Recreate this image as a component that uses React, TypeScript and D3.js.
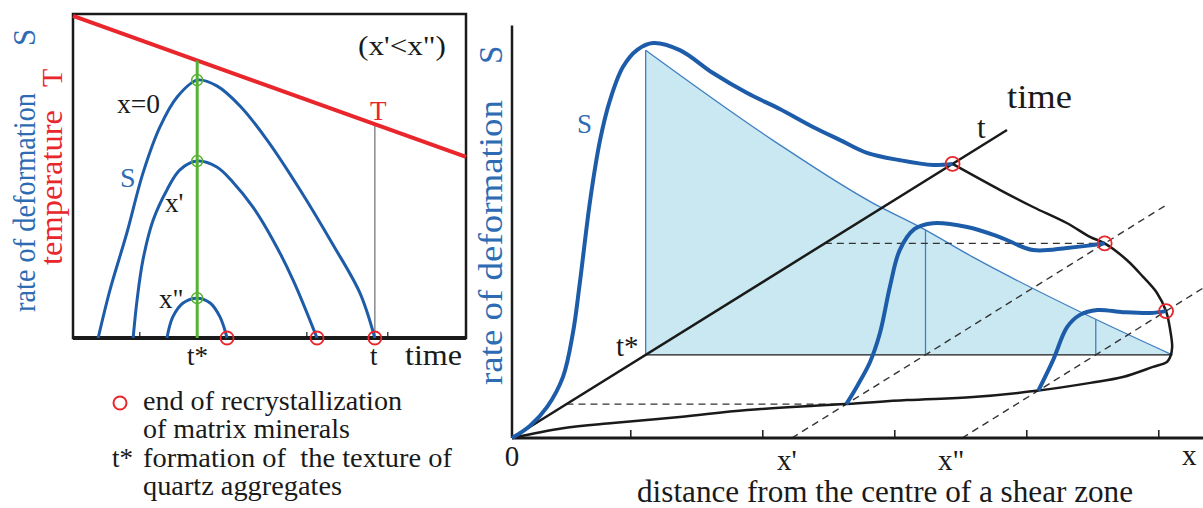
import React from 'react';
import * as d3 from 'd3';

// ---------- left panel: rate of deformation S and temperature T vs time ----------
// (t, s) pairs, both axes in arbitrary 0..100 units
const tStarLeft = 31.6;
const curveX0Left: [number, number][] = [
  [6.4, 0], [9.4, 14.8], [13.7, 32.4], [17.8, 50.9], [22.1, 65.1], [26.5, 74.4],
  [31.6, 79.6], [36.6, 77.8], [42.5, 71.6], [49.4, 61.1], [57.8, 45.7], [66.2, 28.7],
  [73.0, 13.9], [76.8, 0],
];
const curveX1Left: [number, number][] = [
  [15.3, 0], [16.3, 11.7], [17.8, 24.1], [20.4, 36.4], [23.9, 45.7], [27.2, 51.9],
  [31.6, 54.6], [36.6, 52.8], [40.7, 48.1], [45.8, 40.4], [50.9, 30.2], [56.0, 17.9],
  [62.1, 0],
];
const curveX2Left: [number, number][] = [
  [23.9, 0], [25.4, 6.5], [28.0, 10.8], [31.6, 12.3], [34.9, 10.8], [37.4, 6.5], [39.2, 0],
];
const temperatureLeft: [number, number][] = [[0, 99.4], [100, 55.9]];
const tEndLeft = 76.8;
const ticksLeft = [17, 59.5, 80.1];

// ---------- right panel: oblique view of distance x, time t, rate s ----------
const tStarRight = 27;
const xPrime = 42.4;
const xDouble = 68.2;
const ticksRight = [18, 38, 58, 78, 98];
// section curves, (t, s)
const sectionX0: [number, number][] = [
  [0, 0], [3.6, 0.3], [7.1, 2.8], [10.3, 8.9], [12.3, 20.3], [13.7, 34.2], [15.8, 57.4],
  [17.8, 73.7], [19.8, 83.9], [22.4, 91.5], [25.3, 94.0], [28.5, 93.1], [33.9, 85.9],
  [40.6, 72.7], [47.5, 60.2], [54.1, 49.2], [60.8, 37.5], [66.3, 28.4], [71.7, 19.5],
  [78.4, 11.0], [85.1, 3.3], [89, 0],
];
const sectionX1: [number, number][] = [
  [11, 0], [13.3, 3.6], [15.8, 8.3], [17.8, 15.2], [19.8, 27.3], [21.8, 36.6], [24.8, 40.2],
  [28.5, 38.5], [35.4, 30.9], [42.0, 21.7], [48.7, 11.5], [55.6, 5.7], [60.8, 1.7], [63.2, 0],
];
const sectionX2: [number, number][] = [
  [15.4, 0], [18.4, 6.5], [21.2, 13.8], [23.8, 15.1], [27.3, 13.3], [32.5, 7.8],
  [38.0, 2.4], [41.2, 0],
];
// boundary of the deforming domain in the (x, t) plane
const envelope: [number, number][] = [
  [0, 89], [13.6, 80.5], [22.7, 75.0], [31.7, 69.8], [38.6, 65.3], [42.4, 63.2],
  [49.8, 57.8], [56.4, 52.3], [62.4, 47.1], [68.2, 41.2], [73.4, 35.1], [77.9, 29.5],
  [80.0, 26.3], [80.7, 24.7], [79.8, 23.1], [77.7, 19.8], [74.2, 17.9], [68.2, 15.4],
  [59.9, 13.3], [50.6, 12.3], [42.4, 11.0], [28.8, 9.1], [20.3, 6.8], [11.6, 4.9],
  [5.3, 3.2], [0, 0],
];
// s profile across x at t = t*
const tStarProfile: [number, number][] = [
  [0, 92.3], [19.3, 65.0], [34.5, 45.9], [41.6, 38.7], [49.6, 29.6], [66.6, 12.3], [79.8, 0],
];

const BLUE = '#1d5ca9';
const BLUE_TXT = '#2d6cb3';
const THIN_BLUE = '#3f7fc2';
const RED = '#e8262b';
const GREEN = '#56b233';
const FILL = '#c9e8f1';
const INK = '#1a1a1a';
const FONT = 'Liberation Serif, Times New Roman, serif';

export default function App() {
  // left scales
  const xL = d3.scaleLinear().domain([0, 100]).range([73, 466]);
  const yL = d3.scaleLinear().domain([0, 100]).range([338, 14]);
  const lineL = d3.line<[number, number]>().x((d) => xL(d[0])).y((d) => yL(d[1])).curve(d3.curveCatmullRom);

  const tempAt = d3.scaleLinear().domain(temperatureLeft.map((d) => d[0])).range(temperatureLeft.map((d) => d[1]));

  // right projection
  const dS = d3.scaleLinear().domain([0, 100]).range([0, 660]);
  const tX = d3.scaleLinear().domain([0, 100]).range([0, 495]);
  const tY = d3.scaleLinear().domain([0, 100]).range([0, 308]);
  const sS = d3.scaleLinear().domain([0, 100]).range([0, 330]);
  const ox = 512;
  const oy = 438;
  const proj = (d: number, t: number, s: number): [number, number] => [
    ox + dS(d) + tX(t),
    oy - tY(t) - sS(s),
  ];
  const path = d3.line().curve(d3.curveCatmullRom);
  const smooth = d3.line().curve(d3.curveMonotoneX);
  const straight = d3.line();
  const section = (x: number, pts: [number, number][]) => path(pts.map(([t, s]) => proj(x, t, s))) as string;
  const profileAt = d3
    .scaleLinear()
    .domain(tStarProfile.map((d) => d[0]))
    .range(tStarProfile.map((d) => d[1]));

  const hyp = tStarProfile.map(([d, s]) => proj(d, tStarRight, s));
  const t0 = proj(0, tStarRight, 0);
  const hypPath = smooth(hyp) as string;
  const trianglePath = `M${t0[0]},${t0[1]}L${hyp[0][0]},${hyp[0][1]}` + hypPath.replace(/^M[^CLZ]*/, '') + 'Z';

  const circlesR = [
    proj(0, sectionX0[sectionX0.length - 1][0], 0),
    proj(xPrime, sectionX1[sectionX1.length - 1][0], 0),
    proj(xDouble, sectionX2[sectionX2.length - 1][0], 0),
  ];

  const txt = { whiteSpace: 'pre' as const };

  return (
    <svg
      width={1203}
      height={508}
      fontFamily={FONT}
      style={{ position: 'absolute', left: 0, top: 0, background: '#fff' }}
    >
      {/* ================= LEFT PANEL ================= */}
      <rect x={73} y={14} width={393} height={324} fill="none" stroke={INK} strokeWidth={2.5} />
      <line x1={xL(0)} x2={xL(100)} y1={yL(0)} y2={yL(0)} stroke={INK} strokeWidth={4} />
      {ticksLeft.map((t) => (
        <line key={t} x1={xL(t)} x2={xL(t)} y1={yL(0)} y2={yL(0) - 6} stroke={INK} strokeWidth={1.2} />
      ))}

      {/* grey line at t */}
      <line x1={xL(tEndLeft)} x2={xL(tEndLeft)} y1={yL(0)} y2={yL(tempAt(tEndLeft))} stroke="#8a8a8a" strokeWidth={1.5} />

      {/* temperature */}
      <path d={lineL(temperatureLeft) as string} stroke={RED} strokeWidth={4} fill="none" />

      {/* rate curves */}
      {[curveX0Left, curveX1Left, curveX2Left].map((c, i) => (
        <path key={i} d={lineL(c) as string} stroke={BLUE} strokeWidth={3} fill="none" />
      ))}

      {/* t* line */}
      <line x1={xL(tStarLeft)} x2={xL(tStarLeft)} y1={yL(0)} y2={yL(tempAt(tStarLeft))} stroke={GREEN} strokeWidth={3} />
      {[curveX0Left, curveX1Left, curveX2Left].map((c, i) => {
        const peak = c.reduce((a, b) => (b[1] > a[1] ? b : a));
        return <circle key={i} cx={xL(tStarLeft)} cy={yL(peak[1])} r={5.5} fill="none" stroke={GREEN} strokeWidth={1.5} />;
      })}
      {[curveX0Left, curveX1Left, curveX2Left].map((c, i) => (
        <circle key={i} cx={xL(c[c.length - 1][0])} cy={yL(0)} r={6.5} fill="none" stroke={RED} strokeWidth={1.8} />
      ))}

      {/* left labels */}
      <text transform="translate(35,312) rotate(-90)" fontSize={32} fill={BLUE_TXT} textLength={219} lengthAdjust="spacingAndGlyphs" style={txt}>rate of deformation</text>
      <text transform="translate(35,46) rotate(-90)" fontSize={31} fill={BLUE_TXT} style={txt}>S</text>
      <text transform="translate(62,265) rotate(-90)" fontSize={32} fill={RED} textLength={155} lengthAdjust="spacingAndGlyphs" style={txt}>temperature</text>
      <text transform="translate(62,87) rotate(-90)" fontSize={30} fill={RED} style={txt}>T</text>

      <text x={117} y={113} fontSize={27} fill={INK} textLength={43} lengthAdjust="spacingAndGlyphs" style={txt}>x=0</text>
      <text x={165} y={212} fontSize={27} fill={INK} style={txt}>x'</text>
      <text x={159} y={308} fontSize={27} fill={INK} style={txt}>x"</text>
      <text x={120} y={187} fontSize={28} fill={BLUE_TXT} style={txt}>S</text>
      <text x={358} y={55} fontSize={27} fill={INK} textLength={88} lengthAdjust="spacingAndGlyphs" style={txt}>(x'&lt;x")</text>
      <text x={370} y={120} fontSize={27} fill={RED} style={txt}>T</text>
      <text x={187} y={365} fontSize={27} fill={INK} style={txt}>t*</text>
      <text x={370} y={365} fontSize={27} fill={INK} style={txt}>t</text>
      <text x={405} y={365} fontSize={30} fill={INK} textLength={57} lengthAdjust="spacingAndGlyphs" style={txt}>time</text>

      {/* legend */}
      <circle cx={120} cy={403} r={6.5} fill="none" stroke={RED} strokeWidth={2} />
      <text x={143} y={410} fontSize={27} fill={INK} textLength={259} lengthAdjust="spacingAndGlyphs" style={txt}>end of recrystallization</text>
      <text x={143} y={438} fontSize={27} fill={INK} textLength={207} lengthAdjust="spacingAndGlyphs" style={txt}>of matrix minerals</text>
      <text x={112} y={467} fontSize={27} fill={INK} style={txt}>t*</text>
      <text x={143} y={467} fontSize={27} fill={INK} textLength={309} lengthAdjust="spacingAndGlyphs" style={txt}>formation of  the texture of</text>
      <text x={143} y={495} fontSize={27} fill={INK} textLength={199} lengthAdjust="spacingAndGlyphs" style={txt}>quartz aggregates</text>

      {/* ================= RIGHT PANEL ================= */}
      {/* t* plane triangle */}
      <path d={trianglePath} fill={FILL} stroke="none" />
      <path d={hypPath} fill="none" stroke={THIN_BLUE} strokeWidth={1.3} />
      <path d={straight([t0, hyp[0]]) as string} stroke={THIN_BLUE} strokeWidth={1.3} />
      {[xPrime, xDouble].map((x) => (
        <path key={x} d={straight([proj(x, tStarRight, 0), proj(x, tStarRight, profileAt(x))]) as string} stroke={THIN_BLUE} strokeWidth={1.3} />
      ))}
      <path d={straight([t0, proj(tStarProfile[tStarProfile.length - 1][0], tStarRight, 0)]) as string} stroke={INK} strokeWidth={1.3} />

      {/* dashed guides */}
      <g stroke="#333" strokeWidth={1.4} strokeDasharray="7,5" fill="none">
        <path d={straight([proj(xPrime, 0, 0), proj(xPrime, 75.5, 0)]) as string} />
        <path d={straight([proj(xDouble, 0, 0), proj(xDouble, 56, 0)]) as string} />
        <path d={straight([proj(0, sectionX1[0][0], 0), proj(xPrime, sectionX1[0][0], 0)]) as string} />
        <path d={straight([proj(0, sectionX1[sectionX1.length - 1][0], 0), proj(xPrime, sectionX1[sectionX1.length - 1][0], 0)]) as string} />
      </g>

      {/* axes */}
      <line x1={ox} x2={ox} y1={oy} y2={oy - sS(125)} stroke={INK} strokeWidth={2.5} />
      <line x1={ox} x2={ox + dS(105)} y1={oy} y2={oy} stroke={INK} strokeWidth={3} />
      {ticksRight.map((d) => (
        <line key={d} x1={ox + dS(d)} x2={ox + dS(d)} y1={oy} y2={oy - 8} stroke={INK} strokeWidth={1.5} />
      ))}
      <path d={straight([proj(0, 0, 0), proj(0, 100, 0)]) as string} stroke={INK} strokeWidth={2.5} />

      {/* envelope */}
      <path d={path(envelope.map(([d, t]) => proj(d, t, 0))) as string} fill="none" stroke={INK} strokeWidth={2.5} />

      {/* sections */}
      <path d={section(0, sectionX0)} fill="none" stroke={BLUE} strokeWidth={4} />
      <path d={section(xPrime, sectionX1)} fill="none" stroke={BLUE} strokeWidth={4} />
      <path d={section(xDouble, sectionX2)} fill="none" stroke={BLUE} strokeWidth={4} />

      {circlesR.map(([cx, cy], i) => (
        <circle key={i} cx={cx} cy={cy} r={7} fill="none" stroke={RED} strokeWidth={1.8} />
      ))}

      {/* right labels */}
      <text transform="translate(502,385) rotate(-90)" fontSize={33} fill={BLUE_TXT} textLength={285} lengthAdjust="spacingAndGlyphs" style={txt}>rate of deformation</text>
      <text transform="translate(502,64) rotate(-90)" fontSize={33} fill={BLUE_TXT} style={txt}>S</text>
      <text x={577} y={133} fontSize={27} fill={BLUE_TXT} style={txt}>S</text>
      <text x={1007} y={108} fontSize={33} fill={INK} textLength={65} lengthAdjust="spacingAndGlyphs" style={txt}>time</text>
      <text x={977} y={138} fontSize={31} fill={INK} style={txt}>t</text>
      <text x={616} y={356} fontSize={29} fill={INK} style={txt}>t*</text>
      <text x={512} y={466} fontSize={29} fill={INK} textAnchor="middle" style={txt}>0</text>
      <text x={777} y={470} fontSize={29} fill={INK} style={txt}>x'</text>
      <text x={938} y={470} fontSize={29} fill={INK} style={txt}>x"</text>
      <text x={1182} y={465} fontSize={29} fill={INK} style={txt}>x</text>
      <text x={637} y={502} fontSize={31} fill={INK} textLength={496} lengthAdjust="spacingAndGlyphs" style={txt}>distance from the centre of a shear zone</text>
    </svg>
  );
}
